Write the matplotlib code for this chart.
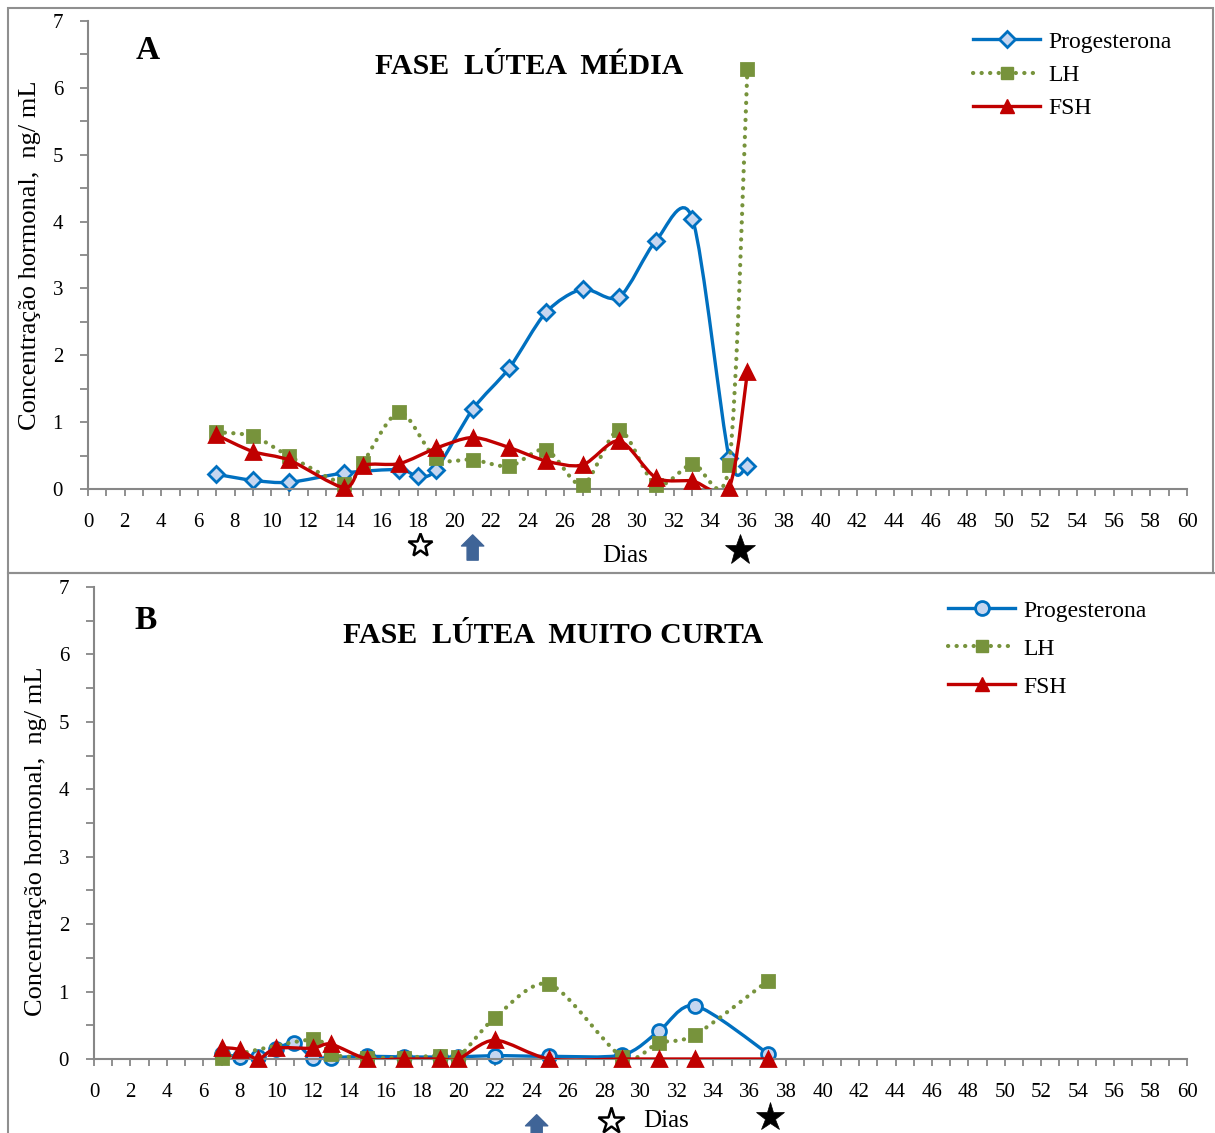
import numpy as np
import matplotlib
matplotlib.use('Agg')
import matplotlib.pyplot as plt
from matplotlib.path import Path
from matplotlib.patches import PathPatch, Rectangle
from matplotlib.lines import Line2D
from matplotlib.transforms import blended_transform_factory

# ---- data: panel A (fase lutea media)
a_prog_days = [7, 9, 11, 14, 17, 18, 19, 21, 23, 25, 27, 29, 31, 33, 35, 36]
a_prog_vals = [0.22, 0.13, 0.10, 0.24, 0.29, 0.19, 0.29, 1.19, 1.81, 2.64, 2.99, 2.87, 3.71, 4.04, 0.47, 0.35]
a_lh_days = [7, 9, 11, 14, 15, 17, 19, 21, 23, 25, 27, 29, 31, 33, 35, 36]
a_lh_vals = [0.85, 0.79, 0.49, 0.08, 0.39, 1.15, 0.46, 0.44, 0.34, 0.59, 0.06, 0.88, 0.06, 0.38, 0.36, 6.28]
a_fsh_days = [7, 9, 11, 14, 15, 17, 19, 21, 23, 25, 27, 29, 31, 33, 35, 36]
a_fsh_vals = [0.81, 0.56, 0.43, 0.02, 0.35, 0.38, 0.61, 0.77, 0.62, 0.42, 0.36, 0.72, 0.17, 0.12, 0.02, 1.75]

# ---- data: panel B (fase lutea muito curta)
b_prog_days = [7, 8, 9, 10, 11, 12, 13, 15, 17, 19, 20, 22, 25, 29, 31, 33, 37]
b_prog_vals = [0.08, 0.03, 0.03, 0.15, 0.24, 0.02, 0.02, 0.04, 0.03, 0.03, 0.03, 0.05, 0.04, 0.06, 0.41, 0.79, 0.08]
b_lh_days = [7, 12, 13, 15, 17, 19, 20, 22, 25, 29, 31, 33, 37]
b_lh_vals = [0.02, 0.29, 0.07, 0.02, 0.02, 0.05, 0.03, 0.61, 1.11, 0.03, 0.24, 0.36, 1.16]
b_fsh_days = [7, 8, 9, 10, 12, 13, 15, 17, 19, 20, 22, 25, 29, 31, 33, 37]
b_fsh_vals = [0.17, 0.14, 0.0, 0.16, 0.16, 0.22, 0.0, 0.0, 0.0, 0.0, 0.28, 0.0, 0.0, 0.0, 0.0, 0.0]

# event markers under the x axis (day)
a_open_star, a_arrow, a_filled_star = 18.1, 21.0, 35.6
b_open_star, b_arrow, b_filled_star = 28.4, 24.3, 37.1

labels = ['Progesterona', 'LH', 'FSH']
x_ticks = list(range(0, 61, 2))

BLUE = '#0070C0'
BLUE_FACE = '#C6D6F0'
GREEN = '#77933C'
RED = '#C00000'
GREY = '#878787'
ARROW = '#3F6497'

plt.rcParams['font.family'] = ['Liberation Serif', 'DejaVu Serif']
plt.rcParams['font.size'] = 15

W, H = 1215, 1133


def smooth_path(x, y, k=7.0):
    """Excel-like smoothed line (bezier through the points)"""
    pts = np.column_stack([x, y]).astype(float)
    n = len(pts)
    verts = [pts[0]]
    codes = [Path.MOVETO]
    for i in range(n - 1):
        p0 = pts[i - 1] if i > 0 else pts[i]
        p1 = pts[i]
        p2 = pts[i + 1]
        p3 = pts[i + 2] if i + 2 < n else pts[i + 1]
        verts += [p1 + (p2 - p0) / k, p2 - (p3 - p1) / k, p2]
        codes += [Path.CURVE4] * 3
    return Path(verts, codes)


def draw_series(ax, days, vals, color, ls, marker, mfc, ms, z):
    patch = PathPatch(smooth_path(days, vals), fill=False, edgecolor=color,
                      linewidth=2.4 if ls == '-' else 3.0, zorder=z)
    if ls != '-':
        patch.set_linestyle((0, (0.05, 2.0)))
        patch.set_capstyle('round')
    ax.add_patch(patch)
    ax.plot(days, vals, linestyle='none', marker=marker, markersize=ms,
            markerfacecolor=mfc, markeredgecolor=color, markeredgewidth=2.0,
            zorder=z + 0.5, clip_on=False)


def style_axes(ax):
    ax.set_xlim(0, 60)
    ax.set_ylim(0, 7)
    for s in ['top', 'right']:
        ax.spines[s].set_visible(False)
    for s in ['left', 'bottom']:
        ax.spines[s].set_color(GREY)
        ax.spines[s].set_linewidth(1.5)
    ax.set_xticks(x_ticks)
    ax.set_xticks(range(0, 61), minor=True)
    ax.set_yticks(range(0, 8))
    ax.set_yticks(np.arange(0, 7.01, 0.5), minor=True)
    ax.tick_params(axis='both', which='both', color=GREY, width=1.3, labelsize=15)
    ax.tick_params(axis='x', which='both', length=5, pad=12)
    ax.tick_params(axis='y', which='both', length=6, pad=12)
    ax.set_ylabel('Concentração hormonal,  ng/ mL', fontsize=19, labelpad=8)


def legend_handles(prog_marker, prog_ms):
    return [
        Line2D([], [], color=BLUE, lw=2.4, marker=prog_marker, ms=prog_ms,
               mfc=BLUE_FACE, mec=BLUE, mew=2.0),
        Line2D([], [], color=GREEN, lw=3.0, ls=(0, (0.05, 2.0)), dash_capstyle='round',
               marker='s', ms=8, mfc=GREEN, mec=GREEN),
        Line2D([], [], color=RED, lw=2.4, marker='^', ms=10, mfc=RED, mec=RED),
    ]


def under_axis(ax, open_star, arrow, filled_star, ys, yf, ya, yd, dias_x, ms_open, ms_filled):
    tr = blended_transform_factory(ax.transData, ax.transAxes)
    ax.plot([open_star], [ys], marker='*', ms=ms_open, mfc='white', mec='black', mew=1.8,
            transform=tr, clip_on=False, linestyle='none')
    ax.plot([filled_star], [yf], marker='*', ms=ms_filled, mfc='black', mec='black', mew=0.5,
            transform=tr, clip_on=False, linestyle='none')
    ax.annotate('', xy=(arrow, ya[1]), xytext=(arrow, ya[0]), xycoords=tr,
                textcoords=tr, annotation_clip=False,
                arrowprops=dict(arrowstyle='simple,head_length=0.5,head_width=1.0,tail_width=0.5',
                                color=ARROW, mutation_scale=16, shrinkA=0, shrinkB=0))
    ax.text(dias_x, yd, 'Dias', transform=tr, ha='center', va='center', fontsize=18)


fig = plt.figure(figsize=(W / 100, H / 100), dpi=100)

# panel frames
fig.add_artist(Rectangle((8 / W, 1 - 573 / H), (1213 - 8) / W, (573 - 8) / H,
                         transform=fig.transFigure, fill=False, edgecolor='#8f8f8f', lw=1.5))
fig.add_artist(Rectangle((8 / W, -0.05), 1.2, 0.05 + 1 - 573 / H,
                         transform=fig.transFigure, fill=False, edgecolor='#8f8f8f', lw=1.5))

# ---- panel A
axA = fig.add_axes([88 / W, 1 - 489 / H, (1187 - 88) / W, (489 - 21) / H])
style_axes(axA)
draw_series(axA, a_prog_days, a_prog_vals, BLUE, '-', 'D', BLUE_FACE, 8, 2)
draw_series(axA, a_lh_days, a_lh_vals, GREEN, ':', 's', GREEN, 8, 3)
draw_series(axA, a_fsh_days, a_fsh_vals, RED, '-', '^', RED, 10, 4)
axA.text(0.054, 0.938, 'A', transform=axA.transAxes, fontsize=24, fontweight='bold',
         ha='center', va='center')
axA.text(0.401, 0.903, 'FASE  LÚTEA  MÉDIA', transform=axA.transAxes, fontsize=21.5,
         fontweight='bold', ha='center', va='center')
axA.legend(legend_handles('D', 8), labels, loc='upper left', frameon=False,
           bbox_to_anchor=(973 / W, 1 - 31 / H), bbox_transform=fig.transFigure,
           fontsize=17, handlelength=2.85, handletextpad=0.35, labelspacing=0.5,
           borderpad=0, borderaxespad=0)
under_axis(axA, a_open_star, a_arrow, a_filled_star, -0.12, -0.131, (-0.152, -0.098),
           -0.143, 29.3, 18, 23)

# ---- panel B
axB = fig.add_axes([94 / W, 1 - 1059 / H, (1187 - 94) / W, (1059 - 587) / H])
style_axes(axB)
axB.yaxis.set_label_coords(-0.043, 0.462)
draw_series(axB, b_prog_days, b_prog_vals, BLUE, '-', 'o', BLUE_FACE, 10, 2)
draw_series(axB, b_lh_days, b_lh_vals, GREEN, ':', 's', GREEN, 8, 3)
draw_series(axB, b_fsh_days, b_fsh_vals, RED, '-', '^', RED, 10, 4)
axB.text(0.047, 0.928, 'B', transform=axB.transAxes, fontsize=24, fontweight='bold',
         ha='center', va='center')
axB.text(0.42, 0.898, 'FASE  LÚTEA  MUITO CURTA', transform=axB.transAxes, fontsize=21.5,
         fontweight='bold', ha='center', va='center')
axB.legend(legend_handles('o', 10), labels, loc='upper left', frameon=False,
           bbox_to_anchor=(948 / W, 1 - 600 / H), bbox_transform=fig.transFigure,
           fontsize=17, handlelength=2.85, handletextpad=0.35, labelspacing=0.7,
           borderpad=0, borderaxespad=0)
under_axis(axB, b_open_star, b_arrow, b_filled_star, -0.131, -0.123, (-0.17, -0.118),
           -0.131, 31.4, 20, 21)

fig.savefig('out.png', dpi=100)
plt.close(fig)
